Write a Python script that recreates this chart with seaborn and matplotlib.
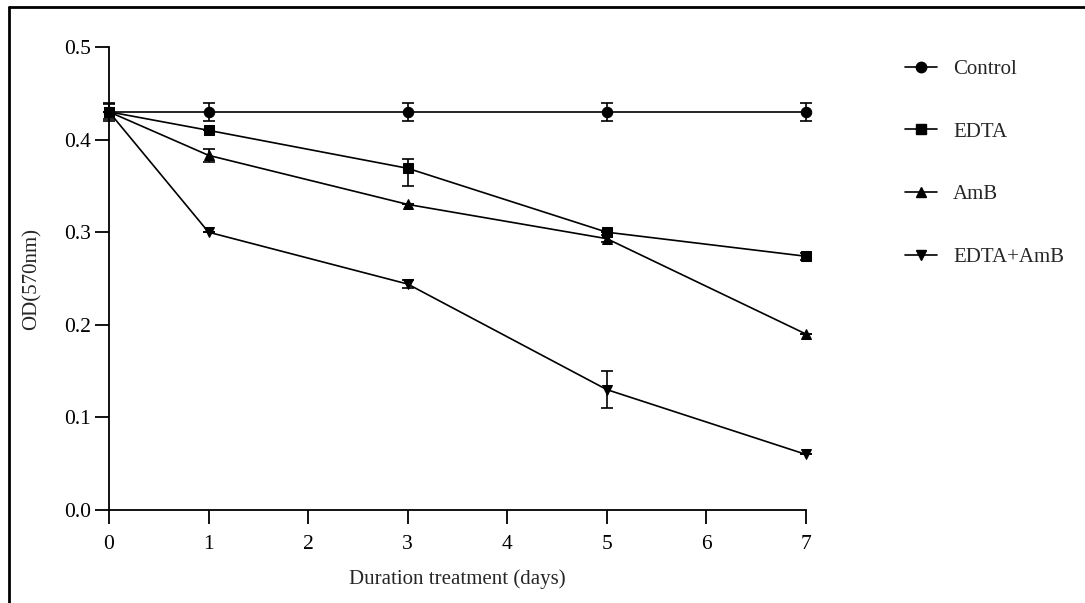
import numpy as np
import pandas as pd
import matplotlib
matplotlib.use("Agg")
import matplotlib.pyplot as plt
from matplotlib.lines import Line2D
import seaborn as sns

days = [0, 1, 3, 5, 7]
groups = ["Control", "EDTA", "AmB", "EDTA+AmB"]

control = [0.430, 0.430, 0.430, 0.430, 0.430]
edta = [0.430, 0.410, 0.369, 0.300, 0.274]
amb = [0.430, 0.383, 0.330, 0.293, 0.190]
edta_amb = [0.430, 0.300, 0.244, 0.130, 0.060]

# lower / upper error extents
control_err_lo = [0.010, 0.010, 0.010, 0.010, 0.010]
control_err_hi = [0.010, 0.010, 0.010, 0.010, 0.010]
edta_err_lo = [0.008, 0.000, 0.019, 0.000, 0.004]
edta_err_hi = [0.008, 0.000, 0.010, 0.000, 0.004]
amb_err_lo = [0.000, 0.007, 0.000, 0.004, 0.000]
amb_err_hi = [0.000, 0.007, 0.000, 0.004, 0.000]
edta_amb_err_lo = [0.000, 0.000, 0.004, 0.020, 0.000]
edta_amb_err_hi = [0.000, 0.000, 0.004, 0.020, 0.000]

values = {"Control": control, "EDTA": edta, "AmB": amb, "EDTA+AmB": edta_amb}
errors = {
    "Control": (control_err_lo, control_err_hi),
    "EDTA": (edta_err_lo, edta_err_hi),
    "AmB": (amb_err_lo, amb_err_hi),
    "EDTA+AmB": (edta_amb_err_lo, edta_amb_err_hi),
}
markers = {"Control": "o", "EDTA": "s", "AmB": "^", "EDTA+AmB": "v"}

df = pd.DataFrame(
    [(d, g, v) for g in groups for d, v in zip(days, values[g])],
    columns=["day", "group", "od"],
)

sns.set_theme(style="ticks")
plt.rcParams["font.family"] = ["Liberation Serif", "DejaVu Serif"]
plt.rcParams["font.size"] = 15

fig = plt.figure(figsize=(10.85, 6.03), dpi=100)
ax = fig.add_axes([109 / 1085, 1 - 510 / 603, (806 - 109) / 1085, (510 - 47) / 603])

for g in groups:
    lo, hi = errors[g]
    ax.errorbar(days, values[g], yerr=[lo, hi], fmt="none", ecolor="black",
                elinewidth=1.2, capsize=4, capthick=1.2, zorder=2)

sns.lineplot(data=df, x="day", y="od", hue="group", style="group",
             hue_order=groups, style_order=groups,
             palette=["black"] * 4, markers=markers, dashes=False,
             markersize=7.5, markeredgecolor="black", linewidth=1.2,
             ax=ax, legend=False, zorder=3)

ax.set_xlim(0, 7)
ax.set_ylim(0, 0.5)
ax.set_xticks(range(0, 8))
ax.set_yticks([0.0, 0.1, 0.2, 0.3, 0.4, 0.5])
ax.set_yticklabels(["0.0", "0.1", "0.2", "0.3", "0.4", "0.5"])
ax.tick_params(axis="both", length=10, width=1.3, colors="black", labelsize=15.5)
ax.tick_params(axis="x", pad=8)
ax.tick_params(axis="y", pad=3)
for side in ["top", "right"]:
    ax.spines[side].set_visible(False)
for side in ["left", "bottom"]:
    ax.spines[side].set_linewidth(1.3)
    ax.spines[side].set_color("black")
for artist in ax.lines + ax.collections:
    artist.set_clip_on(False)

ax.set_xlabel("Duration treatment (days)", fontsize=15, labelpad=11)
ax.set_ylabel("OD(570nm)", fontsize=15, labelpad=16)

handles = [Line2D([], [], color="black", lw=1.2, marker=markers[g], markersize=7.5) for g in groups]
fig.legend(handles, groups, loc="upper left", bbox_to_anchor=(897 / 1085, 1 - 51 / 603),
           frameon=False, fontsize=15, labelspacing=2.07, handlelength=1.5,
           handletextpad=0.8, borderaxespad=0)

# outer frame
fx, fy = 9 / 1085, 1 - 7 / 603
fig.add_artist(Line2D([fx, fx], [0, fy], transform=fig.transFigure, color="black", lw=2))
fig.add_artist(Line2D([fx, 1], [fy, fy], transform=fig.transFigure, color="black", lw=2))

fig.savefig("out.png", dpi=100, facecolor="white")
